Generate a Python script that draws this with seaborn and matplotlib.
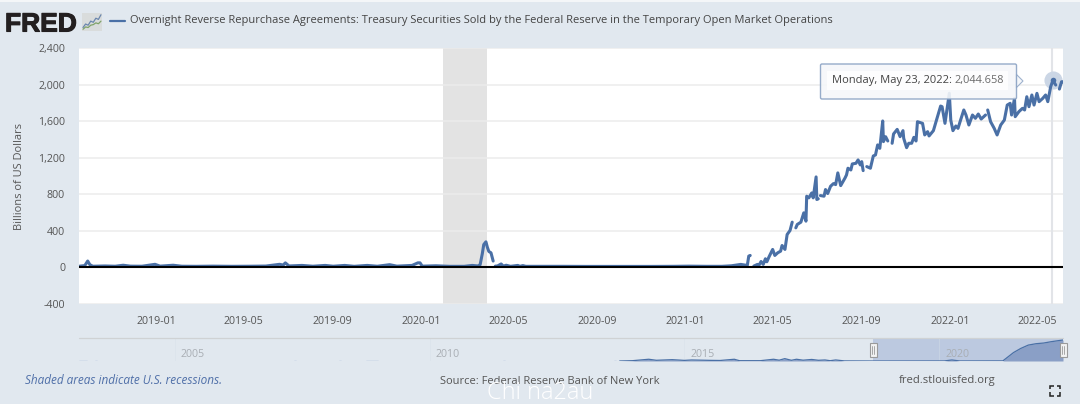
import numpy as np
import pandas as pd
import matplotlib
matplotlib.use("Agg")
import matplotlib.pyplot as plt
import matplotlib.patheffects as pe
from matplotlib.patches import Rectangle, Polygon, FancyBboxPatch
import seaborn as sns

# ---------- data (billions of US dollars), broken where the reference line breaks ----------
seg1_dates = ["2018-09-17","2018-09-24","2018-09-28","2018-10-01","2018-10-05","2018-10-22","2018-11-05","2018-11-16","2018-11-26",
              "2018-12-12","2018-12-30","2019-01-06","2019-01-24","2019-02-05","2019-02-25","2019-03-20","2019-04-15","2019-05-10",
              "2019-06-01","2019-06-20","2019-06-25","2019-06-28","2019-07-03","2019-07-21","2019-08-05","2019-08-22","2019-09-02",
              "2019-09-18","2019-10-01","2019-10-19","2019-11-02","2019-11-19","2019-11-29","2019-12-20","2019-12-28","2019-12-31",
              "2020-01-03","2020-01-22","2020-02-10","2020-03-01","2020-03-12","2020-03-20","2020-03-23","2020-03-26","2020-03-28",
              "2020-03-31","2020-04-02","2020-04-04","2020-04-07","2020-04-10"]
seg1_values = [14,20,70,30,13,16,13,24,14,
               13,34,14,24,13,12,14,12,13,
               15,34,26,50,16,22,13,22,13,
               22,12,22,13,30,14,22,50,50,
               14,18,12,12,22,16,30,150,250,
               280,220,175,160,70]

seg2_dates = ["2020-04-13","2020-04-16","2020-04-21","2020-04-24","2020-04-28","2020-05-04","2020-05-14","2020-05-17","2020-05-21",
              "2020-05-25","2020-06-15","2020-07-15","2020-08-15","2020-09-15","2020-10-15","2020-11-15","2020-12-15","2021-01-05",
              "2021-01-30","2021-02-20","2021-03-05","2021-03-18","2021-03-27","2021-03-29","2021-03-31"]
seg2_values = [14,16,38,14,24,12,22,12,20,
               12,12,12,11,11,11,11,12,14,
               12,12,18,33,22,124,131]

seg3_dates = ["2021-04-05","2021-04-10","2021-04-12","2021-04-15","2021-04-18","2021-04-21","2021-04-23","2021-04-26","2021-05-01",
              "2021-05-04","2021-05-08","2021-05-12","2021-05-14","2021-05-18","2021-05-21","2021-05-25","2021-05-28"]
seg3_values = [15,33,22,65,33,95,62,116,197,131,160,178,240,197,360,404,495]

seg4_dates = ["2021-06-02","2021-06-04","2021-06-09","2021-06-13","2021-06-16","2021-06-17","2021-06-20","2021-06-24","2021-06-26",
              "2021-06-30","2021-07-01","2021-07-03"]
seg4_values = [433,470,495,597,506,779,761,815,761,990,743,750]

seg5_dates = ["2021-07-06","2021-07-11","2021-07-13","2021-07-16","2021-07-20","2021-07-24","2021-07-27","2021-07-30","2021-08-03",
              "2021-08-09","2021-08-11","2021-08-13","2021-08-17","2021-08-19","2021-08-24","2021-08-27","2021-08-30","2021-09-01","2021-09-03"]
seg5_values = [786,779,852,808,888,917,906,1034,895,979,1012,1085,1066,1132,1139,1176,1121,1157,1059]

seg6_dates = ["2021-09-08","2021-09-13","2021-09-17","2021-09-20","2021-09-23","2021-09-26","2021-09-30","2021-10-01","2021-10-04","2021-10-07"]
seg6_values = [1103,1085,1219,1230,1340,1303,1602,1376,1430,1383]

seg7_dates = ["2021-10-13","2021-10-15","2021-10-20","2021-10-24","2021-10-28","2021-10-29","2021-11-02","2021-11-05","2021-11-09",
              "2021-11-12","2021-11-15","2021-11-17","2021-11-24","2021-11-27","2021-12-01","2021-12-03","2021-12-09","2021-12-14",
              "2021-12-19","2021-12-21","2021-12-25","2021-12-31","2022-01-02","2022-01-05","2022-01-09","2022-01-12","2022-01-16",
              "2022-01-20","2022-01-23","2022-01-27","2022-02-01","2022-02-05","2022-02-09","2022-02-13","2022-02-19"]
seg7_values = [1358,1460,1510,1430,1496,1412,1310,1358,1358,
               1423,1383,1594,1576,1449,1485,1438,1496,1631,
               1765,1758,1576,1905,1612,1496,1547,1521,1623,
               1722,1667,1558,1667,1631,1678,1623,1667]

seg8_dates = ["2022-02-22","2022-02-26","2022-03-03","2022-03-07","2022-03-12","2022-03-17","2022-03-21","2022-03-25","2022-03-27",
              "2022-03-31","2022-04-01","2022-04-06","2022-04-11","2022-04-14","2022-04-17","2022-04-20","2022-04-24","2022-04-27",
              "2022-05-01","2022-05-04","2022-05-09","2022-05-13","2022-05-16","2022-05-20","2022-05-23","2022-05-27"]
seg8_values = [1722,1594,1521,1449,1558,1612,1776,1795,1667,
               1849,1649,1703,1740,1722,1867,1758,1886,1776,
               1904,1813,1849,1886,1813,1977,2044.658,1995]

seg9_dates = ["2022-06-01","2022-06-04","2022-06-06"]
seg9_values = [1951,2031,2031]

segments = [(seg1_dates, seg1_values), (seg2_dates, seg2_values), (seg3_dates, seg3_values),
            (seg4_dates, seg4_values), (seg5_dates, seg5_values), (seg6_dates, seg6_values),
            (seg7_dates, seg7_values), (seg8_dates, seg8_values), (seg9_dates, seg9_values)]

y_ticks = [-400, 0, 400, 800, 1200, 1600, 2000, 2400]
y_labels = ["-400", "0", "400", "800", "1,200", "1,600", "2,000", "2,400"]
x_ticks = ["2019-01-01","2019-05-01","2019-09-01","2020-01-01","2020-05-01","2020-09-01",
           "2021-01-01","2021-05-01","2021-09-01","2022-01-01","2022-05-01"]
x_labels = ["2019-01","2019-05","2019-09","2020-01","2020-05","2020-09",
            "2021-01","2021-05","2021-09","2022-01","2022-05"]
recession = ["2020-02-01", "2020-04-01"]

# range navigator (decimal years)
nav_years = [2013.73,2013.98,2014.3,2014.45,2014.76,2015.0,2015.14,2015.53,2015.7,2015.98,2016.08,2016.35,2016.49,
             2016.75,2016.86,2016.97,2017.1,2017.2,2017.33,2017.5,2017.63,2017.76,2017.86,2017.97,2018.14,2018.7,
             2020.1,2020.25,2020.4,2021.25,2021.46,2021.6,2021.75,2021.9,2022.05,2022.2,2022.43]
nav_values = [0,30,170,70,130,60,100,60,50,170,30,30,30,
              170,80,230,70,170,80,150,70,100,30,100,10,0,
              5,100,5,10,825,1221,1551,1683,1749,1881,2046]
nav_early_units = [0,0,1,1,2,2,3,3,4,4,5,5,6,6]
nav_early_years = [2003.12,2003.27,2003.43,2003.47,2007.33,2007.37,2008.22,2008.26,2008.76,2008.98,2011.44,2011.48,2013.61,2013.65]
nav_early_values = [12,12,12,12,12,12,12,12,12,12,12,12,12,12]
nav_labels = [2005, 2010, 2015, 2020]
nav_view = [2018.7, 2022.43]

# logo sparkline
logo_x = [0, 1, 2, 3, 4, 5, 6, 7]
logo_blue = [1.2, 2.4, 2.0, 3.4, 3.0, 4.4, 4.0, 5.6]
logo_green = [0.6, 1.4, 1.2, 2.0, 2.2, 2.8, 2.5, 3.4]

TITLE = "Overnight Reverse Repurchase Agreements: Treasury Securities Sold by the Federal Reserve in the Temporary Open Market Operations"

# ---------- style ----------
sns.set_theme(style="white")
plt.rcParams["font.family"] = ["Open Sans", "DejaVu Sans"]
BG = "#e1e8ef"
BLUE = "#4a70a6"
TXT = "#555555"
W, H = 1080, 404

def frame(l, t, r, b):
    return [l / W, 1 - b / H, (r - l) / W, (b - t) / H]

fig = plt.figure(figsize=(W / 100, H / 100), dpi=100, facecolor=BG)

# ---------- main plot ----------
ax = fig.add_axes(frame(79, 48, 1063, 304), facecolor="white")
df = pd.concat([pd.DataFrame({"date": pd.to_datetime(d), "value": v, "segment": i})
                for i, (d, v) in enumerate(segments)])
ax.axvspan(*pd.to_datetime(recession), color="#e3e3e3", lw=0, zorder=0)
for y in y_ticks:
    ax.axhline(y, color="#ececec", lw=1.1, zorder=0.5)
ax.axvline(pd.Timestamp("2022-05-22"), color="#e2e4e8", lw=1.5, zorder=1)
sns.lineplot(data=df, x="date", y="value", units="segment", estimator=None,
             color=BLUE, lw=2.2, ax=ax, zorder=3, legend=False)
ax.axhline(0, color="black", lw=1.5, zorder=3.5)
ax.set_xlim(pd.Timestamp("2018-09-16"), pd.Timestamp("2022-06-06"))
ax.set_ylim(-400, 2400)
ax.set_yticks(y_ticks, y_labels)
ax.set_xticks(pd.to_datetime(x_ticks), x_labels)
ax.tick_params(axis="y", length=0, pad=10, labelsize=7.7, labelcolor=TXT)
ax.tick_params(axis="x", length=6.5, width=0.8, color="#d3dde9", pad=2, labelsize=7.7, labelcolor=TXT)
ax.set_xlabel("")
ax.set_ylabel("Billions of US Dollars", fontsize=7.9, color=TXT)
ax.yaxis.set_label_coords((25 - 79) / 984, 0.5)
for s in ax.spines.values():
    s.set_visible(False)

# highlighted point
day = pd.Timestamp("2022-05-23")
ax.scatter([day], [2044.658], s=170, color="#cbd6e5", lw=0, zorder=2.5, clip_on=False)
ax.scatter([day], [2044.658], s=16, color=BLUE, lw=0, zorder=4)

# ---------- navigator ----------
nav = fig.add_axes(frame(79, 338, 1063, 361))
nav.patch.set_alpha(0)
nav.set_xlim(2003.12, 2022.43)
nav.set_ylim(0, 2239)
nav.axvspan(*nav_view, color="#bcc9e0", lw=0, zorder=0)
for yr in nav_labels:
    nav.axvline(yr, color="#d6dfe8", lw=0.6, alpha=0.5, zorder=0.5)
    nav.text(yr + 0.12, 680, str(yr), color="#a9aeb4", fontsize=7.7, va="center", ha="left", zorder=1)
nav_df = pd.DataFrame({"year": nav_years, "value": nav_values})
nav.fill_between(nav_years, nav_values, 0, color="#8a9fc6", lw=0, zorder=2)
sns.lineplot(data=nav_df, x="year", y="value", color=BLUE, lw=0.9, ax=nav, zorder=3, legend=False, estimator=None)
early = pd.DataFrame({"year": nav_early_years, "value": nav_early_values, "u": nav_early_units})
sns.lineplot(data=early, x="year", y="value", units="u", estimator=None, color="#7f9bcb", lw=0.9,
             ax=nav, zorder=3, legend=False)
nav.set_xlim(2003.12, 2022.43)
nav.set_ylim(0, 2239)
nav.set_axis_off()

# ---------- page overlay, in pixels ----------
ov = fig.add_axes([0, 0, 1, 1], facecolor="none")
ov.set_xlim(0, W)
ov.set_ylim(H, 0)
ov.set_axis_off()
ov.add_patch(Rectangle((0, 0), W, 2, color="#f4f6f8", lw=0))
ov.plot([79, 1063], [337.7, 337.7], color="#cfd2d4", lw=0.9)

# logo
ov.text(5, 22, "FRED", family="Liberation Sans", weight="bold", fontsize=19, color="#231f20",
        va="center_baseline", ha="left",
        path_effects=[pe.withStroke(linewidth=0.8, foreground="#231f20")])
logo = fig.add_axes(frame(82, 13, 102, 31), facecolor="#d9dcdc")
sns.lineplot(x=logo_x, y=logo_green, color="#7fa36a", lw=0.9, ax=logo, legend=False)
sns.lineplot(x=logo_x, y=logo_blue, color="#6a86ad", lw=0.9, ax=logo, legend=False)
logo.set_xlim(-0.4, 7.4)
logo.set_ylim(0, 6.2)
logo.set_axis_off()
logo.add_patch(Rectangle((0, 0), 1, 1, transform=logo.transAxes, color="#d9dcdc", lw=0, zorder=0))

# legend / title
ov.plot([110, 125], [20.7, 20.7], color=BLUE, lw=1.6)
ov.text(130, 20.5, TITLE, fontsize=8.05, color="#444444", va="center", ha="left")

# tooltip
ov.add_patch(Polygon([(1016, 74), (1023, 81), (1016, 88)], closed=True, fc="#f5f7fa", ec="#9fb2cd", lw=0.8, zorder=5))
ov.add_patch(FancyBboxPatch((820.5, 64), 196, 35, boxstyle="round,pad=0,rounding_size=1.5",
                            fc="#f5f7fa", ec="#8ba2c4", lw=1.0, alpha=0.9, zorder=6))
ov.add_patch(Rectangle((827, 71), 181, 19, fc="white", lw=0, alpha=0.85, zorder=6.5))
ov.text(832, 81, "Monday, May 23, 2022:", fontsize=8.0, color="#444444", va="center", ha="left",
        weight="medium", zorder=7)
ov.text(1004, 81, "2,044.658", fontsize=7.9, color="#6b6b6b", va="center", ha="right", zorder=7)

# navigator handles
for x in (873, 1063):
    ov.add_patch(Rectangle((x - 3.5, 343), 7, 14, fc="#f2f2f2", ec="#9a9a9a", lw=0.8, zorder=6))
    ov.plot([x - 1, x - 1], [346, 354], color="#9a9a9a", lw=0.6, zorder=7)
    ov.plot([x + 1, x + 1], [346, 354], color="#9a9a9a", lw=0.6, zorder=7)

# footer
ov.text(25, 381, "Shaded areas indicate U.S. recessions.", fontsize=8.45, style="italic", color="#4f6fa8",
        va="center", ha="left")
ov.text(440, 381, "Source: Federal Reserve Bank of New York", fontsize=8.0, color=TXT, va="center", ha="left")
ov.text(899, 381, "fred.stlouisfed.org", fontsize=8.1, color=TXT, va="center", ha="left")

# full-screen icon
for cx, sx in ((1050, 1), (1060, -1)):
    for cy, sy in ((385.5, 1), (395.5, -1)):
        ov.plot([cx + sx * 3.5, cx, cx], [cy, cy, cy + sy * 3.5], color="#222222", lw=1.1,
                solid_capstyle="butt", solid_joinstyle="miter")

# watermark
ov.text(540.5, 393, "Chi na2au", fontsize=17, color="white", va="center", ha="center", weight="light", zorder=8)

fig.savefig("out.png", dpi=100, facecolor=BG)
